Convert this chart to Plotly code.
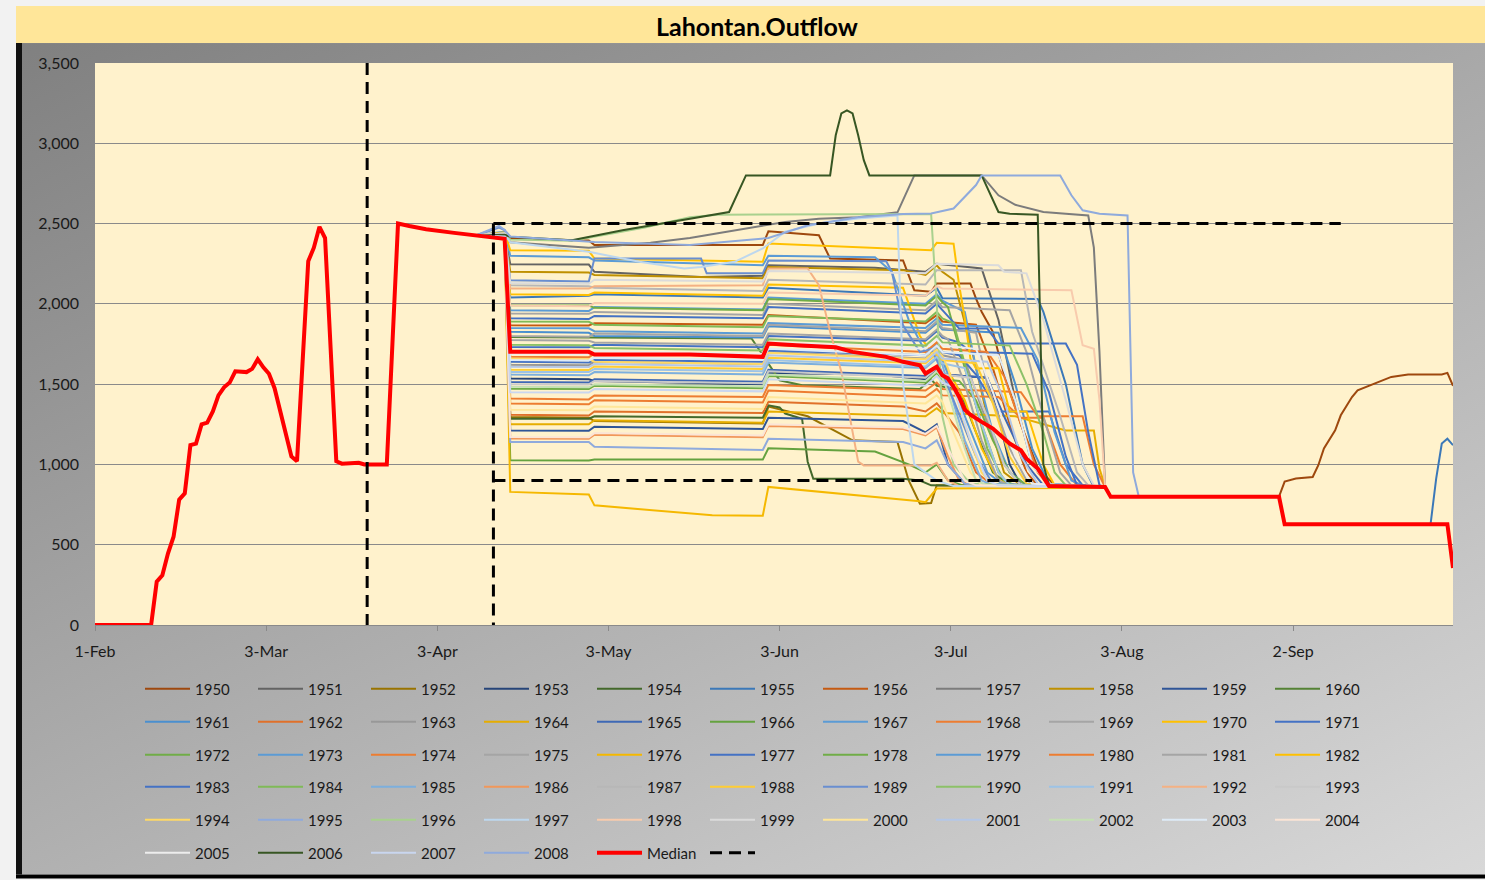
import base64
import plotly.graph_objects as go

YEAR = "2001-"

# ---------------- data ----------------
TICK_DATES = ["02-01", "03-03 12:00", "04-03", "05-03 12:00", "06-03", "07-03 12:00", "08-03", "09-02 12:00"]
TICK_LABELS = ["1-Feb", "3-Mar", "3-Apr", "3-May", "3-Jun", "3-Jul", "3-Aug", "2-Sep"]
Y_TICKS = [0, 500, 1000, 1500, 2000, 2500, 3000, 3500]

MEDIAN = [("02-01", 0), ("02-11", 0), ("02-12", 270), ("02-13", 310), ("02-14", 445), ("02-15", 550),
          ("02-16", 780), ("02-17", 820), ("02-18", 1120), ("02-19", 1130), ("02-20", 1250), ("02-21", 1260),
          ("02-22", 1330), ("02-23", 1430), ("02-24", 1480), ("02-25", 1510), ("02-26", 1580), ("02-27", 1575),
          ("02-28", 1575), ("03-01", 1595), ("03-02", 1655), ("03-03", 1605), ("03-04", 1565), ("03-05", 1475),
          ("03-06", 1330), ("03-07", 1180), ("03-08", 1050), ("03-09", 1020), ("03-10", 1640), ("03-11", 2265),
          ("03-12", 2350), ("03-13", 2480), ("03-14", 2410), ("03-15", 1700), ("03-16", 1020), ("03-17", 1005),
          ("03-20", 1010), ("03-21", 1000), ("03-25", 1000), ("03-26", 1750), ("03-27", 2500), ("03-29", 2485),
          ("04-01", 2465), ("04-06", 2442), ("04-10", 2427), ("04-14", 2410), ("04-15", 2405), ("04-16", 1701),
          ("04-30", 1701), ("05-01", 1684), ("05-18", 1684), ("05-31", 1670), ("06-01", 1753), ("06-06", 1742),
          ("06-13", 1730), ("06-16", 1701), ("06-22", 1670), ("06-25", 1639), ("06-28", 1618), ("06-29", 1566),
          ("07-01", 1608), ("07-02", 1555), ("07-03", 1535), ("07-04", 1483), ("07-05", 1420), ("07-06", 1340),
          ("07-07", 1310), ("07-09", 1265), ("07-11", 1223), ("07-14", 1130), ("07-16", 1088), ("07-17", 1036),
          ("07-19", 974), ("07-21", 866), ("07-31", 860), ("08-01", 798), ("08-31", 798), ("09-01", 627),
          ("09-30", 627), ("10-01", 355)]

DASH_X = ["03-21 12:00", "03-21 12:00", None, "04-13", "04-13", None, "04-13", "09-11", None, "04-13", "07-18"]
DASH_Y = [3500, 0, None, 2500, 0, None, 2500, 2500, None, 900, 900]

Y1950 = [("04-10", 2427), ("04-15", 2420), ("04-16", 2405), ("04-30", 2395), ("05-01", 2366), ("05-31", 2366),
         ("06-01", 2452), ("06-10", 2427), ("06-12", 2282), ("06-25", 2270), ("06-27", 2085), ("06-30", 2075),
         ("07-01", 2127), ("07-07", 2127), ("07-08", 2033), ("07-09", 1951), ("07-11", 1826), ("07-13", 1560),
         ("07-16", 1250), ("07-19", 980), ("07-22", 870), ("07-31", 858), ("08-01", 800), ("08-31", 800),
         ("09-01", 893), ("09-03", 912), ("09-06", 922), ("09-07", 995), ("09-08", 1100), ("09-09", 1161),
         ("09-10", 1213), ("09-11", 1306), ("09-13", 1420), ("09-14", 1462), ("09-17", 1503), ("09-20", 1545),
         ("09-23", 1560), ("09-29", 1560), ("09-30", 1570), ("10-01", 1490)]
Y1951 = [("04-10", 2427), ("04-15", 2440), ("04-16", 2247), ("04-30", 2245), ("05-01", 2200), ("05-20", 2168),
         ("05-31", 2175), ("06-01", 2240), ("06-20", 2225), ("06-29", 2200), ("07-01", 2250), ("07-09", 2220),
         ("07-12", 1900), ("07-15", 1400), ("07-18", 1000), ("07-21", 870), ("07-31", 858), ("08-01", 800)]
Y1952 = [("04-10", 2427), ("04-15", 2420), ("04-16", 1296), ("04-30", 1290), ("05-01", 1270), ("05-31", 1255),
         ("06-01", 1360), ("06-08", 1300), ("06-16", 1150), ("06-24", 1140), ("06-26", 900), ("06-28", 755),
         ("06-30", 760), ("07-01", 870), ("07-31", 858), ("08-01", 800)]
Y1953 = [("04-10", 2427), ("04-15", 2415), ("04-16", 1535), ("04-30", 1530), ("05-01", 1520), ("05-31", 1500),
         ("06-01", 1570), ("06-20", 1560), ("06-29", 1530), ("07-01", 1600), ("07-02", 1560), ("07-10", 1540),
         ("07-12", 1300), ("07-14", 1000), ("07-16", 870), ("07-31", 858), ("08-01", 800)]
Y1954 = [("04-10", 2427), ("04-15", 2410), ("04-16", 1285), ("04-30", 1285), ("05-01", 1300), ("05-31", 1290),
         ("06-01", 1368), ("06-03", 1355), ("06-04", 1317), ("06-07", 1285), ("06-08", 1017), ("06-09", 911),
         ("06-25", 911), ("06-28", 900), ("06-30", 870), ("07-31", 858), ("08-01", 800)]
Y1955 = [("04-10", 2427), ("04-15", 2430), ("04-16", 2040), ("04-30", 2050), ("05-01", 2060), ("05-31", 2040),
         ("06-01", 2100), ("06-29", 2050), ("07-01", 2100), ("07-02", 2035), ("07-19", 2030), ("07-20", 1950),
         ("07-24", 1500), ("07-27", 1000), ("07-29", 860), ("07-31", 858), ("08-01", 800), ("08-31", 800),
         ("09-01", 627), ("09-27", 627), ("09-28", 912), ("09-29", 1130), ("09-30", 1160), ("10-01", 1120)]
Y1956 = [("04-10", 2427), ("04-15", 2425), ("04-16", 1867), ("04-30", 1865), ("05-01", 1880), ("05-31", 1870),
         ("06-01", 1930), ("06-29", 1880), ("07-01", 1930), ("07-02", 1890), ("07-08", 1870), ("07-11", 1600),
         ("07-14", 1250), ("07-17", 950), ("07-19", 870), ("07-31", 858), ("08-01", 800)]
Y1957 = [("04-10", 2427), ("04-15", 2440), ("04-16", 2383), ("04-30", 2350), ("05-11", 2380), ("05-18", 2410),
         ("05-23", 2440), ("05-29", 2475), ("06-04", 2510), ("06-10", 2530), ("06-17", 2540), ("06-24", 2570),
         ("06-27", 2800), ("07-09", 2800), ("07-12", 2676), ("07-15", 2617), ("07-20", 2572), ("07-24", 2561),
         ("07-28", 2550), ("07-29", 2350), ("07-30", 1700), ("07-31", 860), ("08-01", 800)]
Y1958 = [("04-10", 2427), ("04-15", 2440), ("04-16", 2200), ("04-30", 2195), ("05-01", 2180), ("05-31", 2160),
         ("06-01", 2230), ("06-25", 2210), ("06-29", 2180), ("07-01", 2240), ("07-02", 2200), ("07-04", 2150),
         ("07-07", 1750), ("07-10", 1300), ("07-13", 950), ("07-16", 870), ("07-31", 858), ("08-01", 800)]
Y1959 = [("04-10", 2427), ("04-15", 2415), ("04-16", 1212), ("04-30", 1210), ("05-01", 1235), ("05-31", 1220),
         ("06-01", 1290), ("06-25", 1270), ("06-29", 1200), ("07-01", 1250), ("07-03", 1000), ("07-06", 880),
         ("07-31", 858), ("08-01", 800)]
Y1960 = [("04-10", 2427), ("04-15", 2420), ("04-16", 1794), ("04-30", 1790), ("05-01", 1790), ("05-29", 1784),
         ("06-03", 1524), ("06-07", 1493), ("06-28", 1470), ("06-30", 1530), ("07-01", 1490), ("07-05", 1470),
         ("07-08", 1200), ("07-11", 950), ("07-14", 870), ("07-31", 858), ("08-01", 800)]
Y1961 = [("04-10", 2427), ("04-15", 2430), ("04-16", 1826), ("04-30", 1820), ("05-01", 1800), ("05-31", 1790),
         ("06-01", 1860), ("06-29", 1820), ("07-01", 1880), ("07-02", 1840), ("07-12", 1820), ("07-15", 1500),
         ("07-18", 1100), ("07-21", 880), ("07-31", 858), ("08-01", 800)]
Y1962 = [("04-10", 2427), ("04-15", 2420), ("04-16", 1310), ("04-30", 1305), ("05-01", 1330), ("05-31", 1320),
         ("06-01", 1390), ("06-25", 1360), ("06-29", 1330), ("07-01", 1380), ("07-02", 1340), ("07-05", 1200),
         ("07-08", 950), ("07-11", 870), ("07-31", 858), ("08-01", 800)]
Y1963 = [("04-10", 2427), ("04-15", 2425), ("04-16", 1620), ("04-30", 1618), ("05-01", 1640), ("05-31", 1625),
         ("06-01", 1700), ("06-29", 1660), ("07-01", 1720), ("07-02", 1680), ("07-06", 1650), ("07-09", 1350),
         ("07-13", 1000), ("07-16", 870), ("07-31", 858), ("08-01", 800)]
Y1964 = [("04-10", 2427), ("04-15", 2420), ("04-16", 1250), ("04-30", 1250), ("05-01", 1275), ("05-31", 1260),
         ("06-01", 1330), ("06-29", 1300), ("07-01", 1350), ("07-02", 1320), ("07-15", 1300), ("07-24", 1212),
         ("07-29", 1212), ("07-30", 975), ("07-31", 860), ("08-01", 800)]
Y1965 = [("04-10", 2427), ("04-15", 2420), ("04-16", 1514), ("04-30", 1510), ("05-01", 1530), ("05-31", 1515),
         ("06-01", 1590), ("06-29", 1550), ("07-01", 1600), ("07-02", 1560), ("07-10", 1540), ("07-13", 1300),
         ("07-17", 1000), ("07-20", 870), ("07-31", 858), ("08-01", 800)]
Y1966 = [("04-10", 2427), ("04-15", 2410), ("04-16", 1026), ("04-30", 1025), ("05-01", 1030), ("05-31", 1030),
         ("06-01", 1100), ("06-20", 1080), ("06-26", 1000), ("06-29", 950), ("07-01", 1000), ("07-03", 900),
         ("07-06", 865), ("07-31", 858), ("08-01", 800)]
Y1967 = [("04-10", 2427), ("04-15", 2435), ("04-16", 1960), ("04-30", 1955), ("05-01", 1980), ("05-31", 1965),
         ("06-01", 2040), ("06-29", 2000), ("07-01", 2060), ("07-02", 2020), ("07-06", 1950), ("07-08", 1600),
         ("07-11", 1200), ("07-14", 950), ("07-17", 870), ("07-31", 858), ("08-01", 800)]
Y1968 = [("04-10", 2427), ("04-15", 2420), ("04-16", 1380), ("04-30", 1375), ("05-01", 1400), ("05-31", 1385),
         ("06-01", 1460), ("06-29", 1420), ("07-01", 1470), ("07-02", 1430), ("07-12", 1420), ("07-16", 1290),
         ("07-20", 1290), ("07-23", 1000), ("07-26", 870), ("07-31", 858), ("08-01", 800)]
Y1969 = [("04-10", 2427), ("04-15", 2435), ("04-16", 1940), ("04-30", 1938), ("05-01", 1950), ("05-31", 1930),
         ("06-01", 2000), ("06-29", 1960), ("07-01", 2020), ("07-02", 1980), ("07-14", 1960), ("07-17", 1700),
         ("07-20", 1300), ("07-23", 950), ("07-25", 870), ("07-31", 858), ("08-01", 800)]
Y1970 = [("04-10", 2427), ("04-15", 2440), ("04-16", 2060), ("04-30", 2055), ("05-01", 2070), ("05-31", 2050),
         ("06-01", 2120), ("06-25", 2100), ("06-28", 1800), ("06-30", 1700), ("07-02", 1650), ("07-06", 1400),
         ("07-09", 1100), ("07-12", 900), ("07-15", 870), ("07-31", 858), ("08-01", 800)]
Y1971 = [("04-10", 2427), ("04-15", 2425), ("04-16", 1639), ("04-30", 1635), ("05-01", 1650), ("05-31", 1640),
         ("06-01", 1710), ("06-29", 1680), ("07-01", 1740), ("07-02", 1700), ("07-05", 1680), ("07-08", 1560),
         ("07-12", 1330), ("07-21", 1330), ("07-24", 1000), ("07-27", 870), ("07-31", 858), ("08-01", 800)]
Y1972 = [("04-10", 2427), ("04-15", 2420), ("04-16", 1472), ("04-30", 1470), ("05-01", 1490), ("05-31", 1475),
         ("06-01", 1550), ("06-29", 1510), ("07-01", 1570), ("07-02", 1530), ("07-05", 1520), ("07-08", 1400),
         ("07-11", 1150), ("07-14", 950), ("07-17", 870), ("07-31", 858), ("08-01", 800)]
Y1973 = [("04-10", 2427), ("04-15", 2430), ("04-16", 1850), ("04-30", 1848), ("05-01", 1830), ("05-31", 1815),
         ("06-01", 1880), ("06-29", 1850), ("07-01", 1910), ("07-02", 1870), ("07-16", 1850), ("07-19", 1650),
         ("07-22", 1200), ("07-25", 900), ("07-27", 870), ("07-31", 858), ("08-01", 800)]
Y1974 = [("04-10", 2427), ("04-15", 2420), ("04-16", 1410), ("04-30", 1405), ("05-01", 1430), ("05-31", 1420),
         ("06-01", 1495), ("06-29", 1460), ("07-01", 1510), ("07-02", 1470), ("07-16", 1450), ("07-19", 1300),
         ("07-27", 1300), ("07-29", 1000), ("07-31", 860), ("08-01", 800)]
Y1975 = [("04-10", 2427), ("04-15", 2430), ("04-16", 1800), ("04-30", 1795), ("05-01", 1815), ("05-31", 1800),
         ("06-01", 1870), ("06-29", 1830), ("07-01", 1890), ("07-02", 1850), ("07-08", 1820), ("07-10", 1500),
         ("07-14", 1100), ("07-17", 900), ("07-19", 870), ("07-31", 858), ("08-01", 800)]
Y1976 = [("04-10", 2427), ("04-15", 2400), ("04-16", 829), ("04-30", 813), ("05-01", 745), ("05-22", 683),
         ("05-31", 680), ("06-01", 860), ("06-28", 770), ("06-29", 765), ("07-01", 850), ("07-31", 855),
         ("08-01", 800)]
Y1977 = [("04-10", 2427), ("04-15", 2428), ("04-16", 1732), ("04-30", 1730), ("05-01", 1745), ("05-31", 1730),
         ("06-01", 1800), ("06-29", 1770), ("07-01", 1830), ("07-02", 1790), ("07-05", 1760), ("07-07", 1700),
         ("07-18", 1690), ("07-21", 1450), ("07-24", 1050), ("07-26", 870), ("07-31", 858), ("08-01", 800)]
Y1978 = [("04-10", 2427), ("04-15", 2435), ("04-16", 1992), ("04-30", 1990), ("05-01", 1975), ("05-31", 1960),
         ("06-01", 2030), ("06-29", 1990), ("07-01", 2050), ("07-02", 2010), ("07-03", 1980), ("07-06", 1600),
         ("07-09", 1250), ("07-12", 950), ("07-14", 870), ("07-31", 858), ("08-01", 800)]
Y1979 = [("04-10", 2427), ("04-15", 2450), ("04-16", 2300), ("04-30", 2290), ("05-01", 2270), ("05-31", 2240),
         ("06-01", 2300), ("06-20", 2290), ("06-23", 2200), ("06-26", 1900), ("06-29", 1700), ("07-01", 1750),
         ("07-02", 1650), ("07-06", 1300), ("07-10", 950), ("07-13", 870), ("07-31", 858), ("08-01", 800)]
Y1980 = [("04-10", 2427), ("04-15", 2425), ("04-16", 1670), ("04-30", 1668), ("05-01", 1690), ("05-31", 1675),
         ("06-01", 1745), ("06-29", 1700), ("07-01", 1760), ("07-02", 1720), ("07-10", 1700), ("07-13", 1550),
         ("07-16", 1250), ("07-19", 950), ("07-21", 870), ("07-31", 858), ("08-01", 800)]
Y1981 = [("04-10", 2427), ("04-15", 2430), ("04-16", 1775), ("04-30", 1770), ("05-01", 1760), ("05-31", 1745),
         ("06-01", 1815), ("06-29", 1780), ("07-01", 1840), ("07-02", 1800), ("07-03", 1780), ("07-06", 1500),
         ("07-09", 1150), ("07-12", 900), ("07-14", 870), ("07-31", 858), ("08-01", 800)]
Y1982 = [("04-10", 2427), ("04-15", 2445), ("04-16", 2334), ("04-30", 2330), ("05-01", 2282), ("05-31", 2262),
         ("06-01", 2376), ("06-30", 2334), ("07-01", 2380), ("07-04", 2375), ("07-05", 2116), ("07-06", 1908),
         ("07-07", 1660), ("07-08", 1598), ("07-12", 1600), ("07-14", 1330), ("07-17", 1330), ("07-20", 1000),
         ("07-22", 870), ("07-31", 858), ("08-01", 800)]
Y1983 = [("04-10", 2427), ("04-15", 2432), ("04-16", 1910), ("04-30", 1905), ("05-01", 1925), ("05-31", 1910),
         ("06-01", 1980), ("06-29", 1940), ("07-01", 2000), ("07-02", 1960), ("07-05", 1846), ("07-10", 1846),
         ("07-12", 1753), ("07-24", 1753), ("07-26", 1620), ("07-28", 1200), ("07-30", 870), ("07-31", 858),
         ("08-01", 800)]
Y1984 = [("04-10", 2427), ("04-15", 2432), ("04-16", 1890), ("04-30", 1888), ("05-01", 1870), ("05-31", 1855),
         ("06-01", 1925), ("06-29", 1890), ("07-01", 1950), ("07-02", 1910), ("07-04", 1880), ("07-07", 1500),
         ("07-10", 1100), ("07-13", 900), ("07-15", 870), ("07-31", 858), ("08-01", 800)]
Y1985 = [("04-10", 2427), ("04-15", 2422), ("04-16", 1560), ("04-30", 1555), ("05-01", 1575), ("05-31", 1560),
         ("06-01", 1635), ("06-29", 1600), ("07-01", 1660), ("07-02", 1620), ("07-03", 1500), ("07-06", 1150),
         ("07-09", 900), ("07-11", 870), ("07-31", 858), ("08-01", 800)]
Y1986 = [("04-10", 2427), ("04-15", 2415), ("04-16", 1161), ("04-30", 1160), ("05-01", 1185), ("05-31", 1170),
         ("06-01", 1240), ("06-25", 1220), ("06-29", 1180), ("07-01", 1230), ("07-03", 1050), ("07-05", 900),
         ("07-07", 870), ("07-31", 858), ("08-01", 800)]
Y1987 = [("04-10", 2427), ("04-15", 2440), ("04-16", 2116), ("04-30", 2110), ("05-01", 2100), ("05-31", 2080),
         ("06-01", 2150), ("06-29", 2120), ("07-01", 2210), ("07-16", 2210), ("07-18", 1826), ("07-20", 1620),
         ("07-23", 1300), ("07-26", 950), ("07-28", 870), ("07-31", 858), ("08-01", 800)]
Y1988 = [("04-10", 2427), ("04-15", 2422), ("04-16", 1590), ("04-30", 1588), ("05-01", 1610), ("05-31", 1595),
         ("06-01", 1665), ("06-29", 1630), ("07-01", 1690), ("07-02", 1650), ("07-08", 1630), ("07-11", 1380),
         ("07-14", 1050), ("07-17", 880), ("07-31", 858), ("08-01", 800)]
Y1989 = [("04-10", 2427), ("04-14", 2475), ("04-15", 2460), ("04-16", 2147), ("04-30", 2140), ("05-01", 2282),
         ("05-20", 2282), ("05-21", 2190), ("05-31", 2190), ("06-01", 2270), ("06-22", 2265), ("06-23", 2200),
         ("06-25", 1866), ("06-28", 1700), ("06-30", 1720), ("07-01", 1650), ("07-04", 1400), ("07-08", 1050),
         ("07-11", 880), ("07-31", 858), ("08-01", 800)]
Y1990 = [("04-10", 2427), ("04-15", 2428), ("04-16", 1745), ("04-30", 1742), ("05-01", 1725), ("05-31", 1710),
         ("06-01", 1780), ("06-29", 1740), ("07-01", 1800), ("07-02", 1760), ("07-14", 1740), ("07-17", 1500),
         ("07-20", 1200), ("07-22", 950), ("07-24", 870), ("07-31", 858), ("08-01", 800)]
Y1991 = [("04-10", 2427), ("04-15", 2422), ("04-16", 1576), ("04-30", 1575), ("05-01", 1595), ("05-31", 1580),
         ("06-01", 1650), ("06-29", 1610), ("07-01", 1670), ("07-02", 1630), ("07-06", 1600), ("07-09", 1250),
         ("07-12", 950), ("07-14", 870), ("07-31", 858), ("08-01", 800)]
Y1992 = [("04-10", 2427), ("04-15", 2440), ("04-16", 2095), ("04-30", 2095), ("05-01", 2110), ("05-31", 2116),
         ("06-01", 2220), ("06-08", 2220), ("06-10", 2116), ("06-12", 1826), ("06-14", 1577), ("06-17", 1017),
         ("06-18", 994), ("06-30", 994), ("07-01", 1010), ("07-03", 900), ("07-05", 865), ("07-31", 858),
         ("08-01", 800)]
Y1993 = [("04-10", 2427), ("04-15", 2420), ("04-16", 1500), ("04-30", 1498), ("05-01", 1520), ("05-31", 1505),
         ("06-01", 1580), ("06-29", 1540), ("07-01", 1600), ("07-02", 1560), ("07-07", 1540), ("07-10", 1300),
         ("07-13", 1000), ("07-16", 870), ("07-31", 858), ("08-01", 800)]
Y1994 = [("04-10", 2427), ("04-15", 2424), ("04-16", 1660), ("04-30", 1655), ("05-01", 1640), ("05-31", 1625),
         ("06-01", 1695), ("06-29", 1655), ("07-01", 1715), ("07-02", 1675), ("07-03", 1600), ("07-06", 1250),
         ("07-09", 950), ("07-11", 870), ("07-31", 858), ("08-01", 800)]
Y1995 = [("04-10", 2427), ("04-15", 2410), ("04-16", 1140), ("04-30", 1140), ("05-01", 1110), ("05-31", 1090),
         ("06-01", 1160), ("06-25", 1140), ("06-29", 1100), ("07-01", 1150), ("07-03", 1000), ("07-06", 880),
         ("07-31", 858), ("08-01", 800)]
Y1996 = [("04-10", 2427), ("04-15", 2440), ("04-16", 2400), ("04-27", 2393), ("05-10", 2475), ("05-18", 2540),
         ("05-23", 2555), ("06-30", 2560), ("07-01", 2000), ("07-02", 1300), ("07-04", 1000), ("07-07", 880),
         ("07-31", 858), ("08-01", 800)]
Y1997 = [("04-10", 2427), ("04-15", 2435), ("04-16", 2383), ("04-30", 2324), ("05-09", 2262), ("05-17", 2220),
         ("05-20", 2230), ("05-26", 2262), ("05-31", 2345), ("06-04", 2449), ("06-10", 2500), ("06-17", 2531),
         ("06-24", 2551), ("06-25", 1500), ("06-27", 1000), ("07-01", 900), ("07-04", 865), ("07-31", 858),
         ("08-01", 800)]
Y1998 = [("04-10", 2427), ("04-15", 2438), ("04-16", 1990), ("04-30", 1985), ("05-01", 2005), ("05-31", 2000),
         ("06-01", 2070), ("06-29", 2050), ("07-01", 2110), ("07-02", 2096), ("07-25", 2085), ("07-27", 1742),
         ("07-29", 1720), ("07-30", 1400), ("07-31", 860), ("08-01", 800)]
Y1999 = [("04-10", 2427), ("04-15", 2438), ("04-16", 2130), ("04-30", 2125), ("05-01", 2150), ("05-31", 2140),
         ("06-01", 2205), ("06-29", 2190), ("07-01", 2250), ("07-12", 2240), ("07-13", 2200), ("07-17", 2190),
         ("07-20", 1900), ("07-24", 1400), ("07-27", 1000), ("07-29", 870), ("07-31", 858), ("08-01", 800)]
Y2000 = [("04-10", 2427), ("04-15", 2420), ("04-16", 1340), ("04-30", 1338), ("05-01", 1360), ("05-31", 1345),
         ("06-01", 1420), ("06-29", 1380), ("07-01", 1430), ("07-02", 1390), ("07-04", 1200), ("07-07", 950),
         ("07-09", 870), ("07-31", 858), ("08-01", 800)]
Y2001 = [("04-10", 2427), ("04-15", 2423), ("04-16", 1608), ("04-30", 1606), ("05-01", 1625), ("05-31", 1610),
         ("06-01", 1680), ("06-29", 1640), ("07-01", 1700), ("07-02", 1660), ("07-10", 1640), ("07-13", 1400),
         ("07-16", 1050), ("07-19", 880), ("07-31", 858), ("08-01", 800)]
Y2002 = [("04-10", 2427), ("04-15", 2420), ("04-16", 1483), ("04-30", 1480), ("05-01", 1500), ("05-31", 1485),
         ("06-01", 1560), ("06-29", 1520), ("07-01", 1580), ("07-02", 1540), ("07-03", 1450), ("07-06", 1100),
         ("07-08", 900), ("07-10", 870), ("07-31", 858), ("08-01", 800)]
Y2003 = [("04-10", 2427), ("04-15", 2424), ("04-16", 1650), ("04-30", 1648), ("05-01", 1665), ("05-31", 1650),
         ("06-01", 1720), ("06-29", 1680), ("07-01", 1740), ("07-02", 1700), ("07-12", 1680), ("07-15", 1400),
         ("07-18", 1000), ("07-21", 870), ("07-31", 858), ("08-01", 800)]
Y2004 = [("04-10", 2427), ("04-15", 2415), ("04-16", 1171), ("04-30", 1170), ("05-01", 1195), ("05-31", 1180),
         ("06-01", 1250), ("06-25", 1230), ("06-29", 1190), ("07-01", 1240), ("07-03", 1100), ("07-06", 900),
         ("07-08", 870), ("07-31", 858), ("08-01", 800)]
Y2005 = [("04-10", 2427), ("04-15", 2425), ("04-16", 1690), ("04-30", 1688), ("05-01", 1705), ("05-31", 1690),
         ("06-01", 1760), ("06-29", 1720), ("07-01", 1780), ("07-02", 1740), ("07-08", 1720), ("07-11", 1450),
         ("07-15", 1050), ("07-18", 880), ("07-31", 858), ("08-01", 800)]
Y2006 = [("04-10", 2427), ("04-15", 2430), ("04-16", 2418), ("04-27", 2396), ("05-06", 2459), ("05-15", 2511),
         ("05-22", 2556), ("05-25", 2572), ("05-28", 2800), ("06-12", 2800), ("06-13", 3050), ("06-14", 3186),
         ("06-15", 3205), ("06-16", 3186), ("06-17", 3050), ("06-18", 2895), ("06-19", 2800), ("07-09", 2800),
         ("07-12", 2572), ("07-14", 2561), ("07-19", 2555), ("07-20", 1000), ("07-21", 870), ("07-31", 858),
         ("08-01", 800)]
Y2007 = [("04-10", 2427), ("04-15", 2420), ("04-16", 1450), ("04-30", 1448), ("05-01", 1470), ("05-31", 1455),
         ("06-01", 1530), ("06-29", 1490), ("07-01", 1550), ("07-02", 1510), ("07-04", 1480), ("07-07", 1150),
         ("07-10", 900), ("07-12", 870), ("07-31", 858), ("08-01", 800)]
Y2008 = [("04-10", 2427), ("04-14", 2485), ("04-15", 2460), ("04-16", 2420), ("05-01", 2386), ("05-18", 2366),
         ("06-01", 2410), ("06-08", 2490), ("06-17", 2540), ("06-25", 2560), ("06-30", 2563), ("07-04", 2594),
         ("07-08", 2740), ("07-09", 2800), ("07-23", 2800), ("07-25", 2676), ("07-27", 2583), ("07-30", 2561),
         ("08-04", 2550), ("08-05", 950), ("08-06", 800)]

SERIES = [("1950", Y1950), ("1951", Y1951), ("1952", Y1952), ("1953", Y1953), ("1954", Y1954),
          ("1955", Y1955), ("1956", Y1956), ("1957", Y1957), ("1958", Y1958), ("1959", Y1959),
          ("1960", Y1960), ("1961", Y1961), ("1962", Y1962), ("1963", Y1963), ("1964", Y1964),
          ("1965", Y1965), ("1966", Y1966), ("1967", Y1967), ("1968", Y1968), ("1969", Y1969),
          ("1970", Y1970), ("1971", Y1971), ("1972", Y1972), ("1973", Y1973), ("1974", Y1974),
          ("1975", Y1975), ("1976", Y1976), ("1977", Y1977), ("1978", Y1978), ("1979", Y1979),
          ("1980", Y1980), ("1981", Y1981), ("1982", Y1982), ("1983", Y1983), ("1984", Y1984),
          ("1985", Y1985), ("1986", Y1986), ("1987", Y1987), ("1988", Y1988), ("1989", Y1989),
          ("1990", Y1990), ("1991", Y1991), ("1992", Y1992), ("1993", Y1993), ("1994", Y1994),
          ("1995", Y1995), ("1996", Y1996), ("1997", Y1997), ("1998", Y1998), ("1999", Y1999),
          ("2000", Y2000), ("2001", Y2001), ("2002", Y2002), ("2003", Y2003), ("2004", Y2004),
          ("2005", Y2005), ("2006", Y2006), ("2007", Y2007), ("2008", Y2008)]

# ---------------- style ----------------
COLORS = {
    "1950": "#9E480E", "1951": "#636363", "1952": "#997300", "1953": "#264478", "1954": "#43682B",
    "1955": "#3B78B8", "1956": "#C55A11", "1957": "#7C7C7C", "1958": "#BF9000", "1959": "#2F5597",
    "1960": "#548235", "1961": "#4A8FCF", "1962": "#E0702A", "1963": "#989898", "1964": "#E6AD00",
    "1965": "#3E68B5", "1966": "#64A23F", "1967": "#5B9BD5", "1968": "#ED7D31", "1969": "#A5A5A5",
    "1970": "#FFC000", "1971": "#4472C4", "1972": "#70AD47", "1973": "#5B9BD5", "1974": "#ED7D31",
    "1975": "#A5A5A5", "1976": "#F5B800", "1977": "#4472C4", "1978": "#70AD47", "1979": "#5B9BD5",
    "1980": "#ED7D31", "1981": "#A5A5A5", "1982": "#FFC000", "1983": "#4472C4", "1984": "#7FBA57",
    "1985": "#7CAFDD", "1986": "#F1975A", "1987": "#B7B7B7", "1988": "#FFCD33", "1989": "#698ED0",
    "1990": "#8CC168", "1991": "#9DC3E6", "1992": "#F4B183", "1993": "#C9C9C9", "1994": "#FFD966",
    "1995": "#8FAADC", "1996": "#A9D18E", "1997": "#BDD7EE", "1998": "#F8CBAD", "1999": "#DBDBDB",
    "2000": "#FFE699", "2001": "#B4C7E7", "2002": "#C5E0B4", "2003": "#DEEBF7", "2004": "#FBE5D6",
    "2005": "#EDEDED", "2006": "#375623", "2007": "#C9D6EF", "2008": "#8FAADC",
}

W, H = 1485, 880
ML, MR, MT, MB = 95, 32, 63, 254
PW, PH = W - ML - MR, H - MT - MB
FONT = "Lato"


def xp(px):
    return (px - ML) / PW


def yp(py):
    return (H - MB - py) / PH


fig = go.Figure()

legend_names = ["legend", "legend2", "legend3", "legend4", "legend5", "legend6"]
idx = 0
for name, pts in SERIES:
    fig.add_trace(go.Scatter(
        x=[YEAR + d for d, _ in pts], y=[v for _, v in pts], name=name, mode="lines",
        line=dict(color=COLORS[name], width=2), legend=legend_names[idx // 11], hoverinfo="skip"))
    idx += 1

fig.add_trace(go.Scatter(
    x=[YEAR + d for d, _ in MEDIAN], y=[v for _, v in MEDIAN], name="Median", mode="lines",
    line=dict(color="#FF0000", width=4), legend=legend_names[idx // 11], hoverinfo="skip"))
idx += 1
fig.add_trace(go.Scatter(
    x=[(YEAR + d) if d else None for d in DASH_X], y=DASH_Y, name="", mode="lines",
    line=dict(color="#000000", width=3, dash="12px,7px"), legend=legend_names[idx // 11],
    hoverinfo="skip", connectgaps=False))

# gradient background image
svg = ('<svg xmlns="http://www.w3.org/2000/svg" width="400" height="240" preserveAspectRatio="none">'
       '<defs><linearGradient id="g" x1="0" y1="0" x2="0.91" y2="1.11">'
       '<stop offset="0" stop-color="#808080"/><stop offset="1" stop-color="#dadada"/>'
       '</linearGradient></defs><rect x="0" y="0" width="400" height="240" fill="url(#g)"/></svg>')
src = "data:image/svg+xml;base64," + base64.b64encode(svg.encode()).decode()
fig.add_layout_image(dict(source=src, xref="paper", yref="paper", x=xp(16), y=yp(43),
                          sizex=(W - 16) / PW, sizey=(876 - 43) / PH, sizing="stretch",
                          xanchor="left", yanchor="top", layer="below"))

shapes = [
    dict(type="rect", xref="paper", yref="paper", x0=xp(16), x1=xp(W), y0=yp(43), y1=yp(6),
         fillcolor="#FFE699", line=dict(width=0), layer="below"),
    dict(type="rect", xref="x domain", yref="y domain", x0=0, x1=1, y0=0, y1=1,
         fillcolor="#FFF2CC", line=dict(width=0), layer="below"),
    dict(type="rect", xref="paper", yref="paper", x0=xp(16), x1=xp(W), y0=yp(880), y1=yp(876),
         fillcolor="#000000", line=dict(width=0), layer="below"),
    dict(type="rect", xref="paper", yref="paper", x0=xp(16), x1=xp(22), y0=yp(876), y1=yp(43),
         fillcolor="#111111", line=dict(width=0), layer="below"),
]

legends = {}
ROW_Y = [689, 722, 755, 787, 820, 853]
for i, ln in enumerate(legend_names):
    legends[ln] = dict(orientation="h", x=xp(140), xanchor="left", y=yp(ROW_Y[i]), yanchor="middle",
                       entrywidth=53, entrywidthmode="pixels", itemwidth=45, bgcolor="rgba(0,0,0,0)",
                       font=dict(family=FONT, size=15, color="#1a1a1a"), traceorder="normal",
                       itemclick=False, itemdoubleclick=False)

fig.update_layout(
    width=W, height=H, margin=dict(l=ML, r=MR, t=MT, b=MB, pad=0),
    paper_bgcolor="#F2F2F2", plot_bgcolor="rgba(0,0,0,0)",
    shapes=shapes, showlegend=True,
    annotations=[dict(text="<b>Lahontan.Outflow</b>", xref="paper", yref="paper", x=xp(757), y=yp(26),
                      xanchor="center", yanchor="middle", showarrow=False,
                      font=dict(family=FONT, size=25, color="#000000"))],
    xaxis=dict(type="date", range=[YEAR + "02-01", YEAR + "10-01"], tickvals=[YEAR + d for d in TICK_DATES],
               ticktext=TICK_LABELS, showgrid=False, showline=True, linecolor="#8a8a8a", linewidth=1,
               ticks="outside", ticklen=5, tickcolor="#8a8a8a", zeroline=False, ticklabelstandoff=7,
               tickfont=dict(family=FONT, size=16, color="#1a1a1a")),
    yaxis=dict(range=[0, 3500], tickvals=Y_TICKS, tickformat=",d", showgrid=True, gridcolor="#8a8a8a",
               gridwidth=1, zeroline=False, showline=False, ticks="", ticklabelstandoff=15,
               tickfont=dict(family=FONT, size=16, color="#1a1a1a")),
    **legends,
)

fig.write_html("out.html", config={"displayModeBar": False},
               post_script="document.body.style.margin='0px';")
